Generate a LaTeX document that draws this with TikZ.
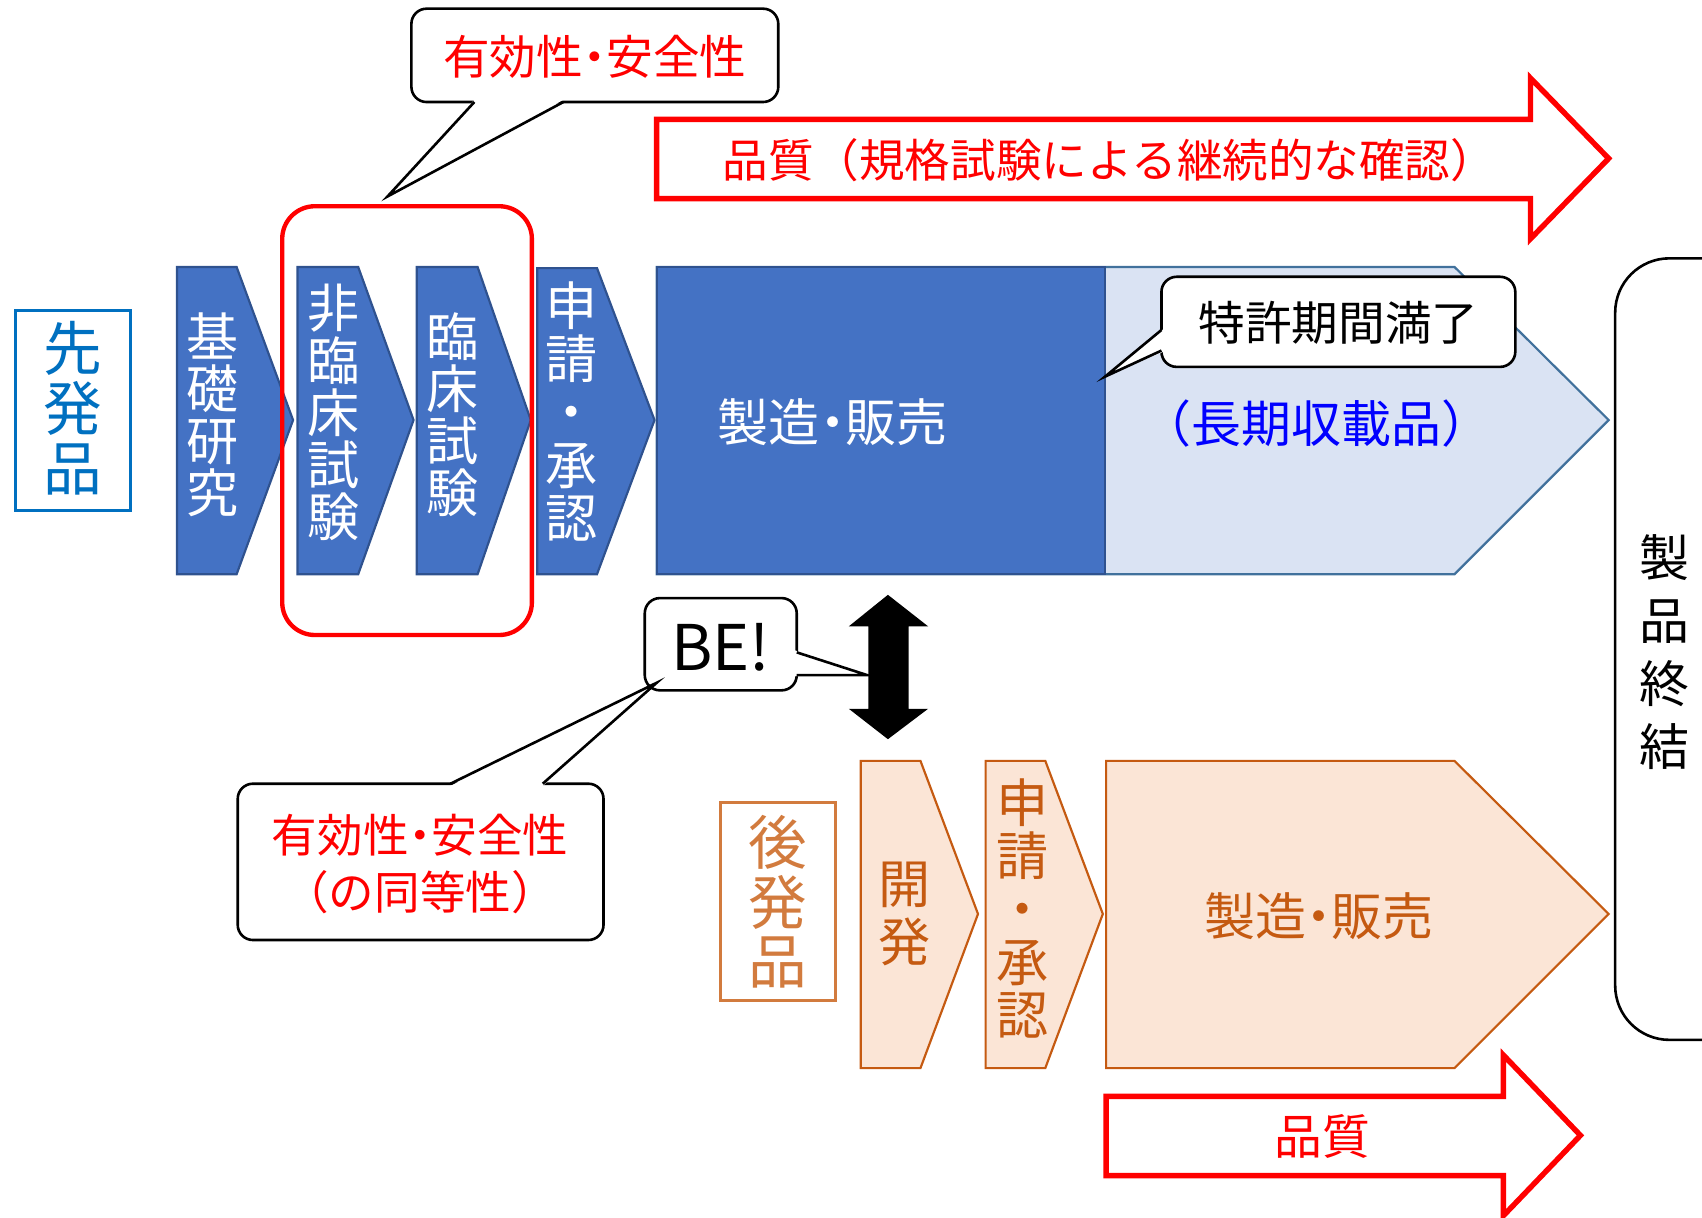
\documentclass[tikz,border=0pt]{standalone}
\usepackage{fontspec}
\setmainfont{Noto Sans CJK JP}
\definecolor{bfill}{HTML}{4472C4}
\definecolor{bline}{HTML}{2F528F}
\definecolor{lfill}{HTML}{DAE3F3}
\definecolor{lline}{HTML}{41719C}
\definecolor{ofill}{HTML}{FBE5D6}
\definecolor{oline}{HTML}{C55A11}
\definecolor{obox}{HTML}{D27B3E}
\definecolor{sblue}{HTML}{0070C0}
\definecolor{pblue}{HTML}{0000FF}
\definecolor{pred}{HTML}{FF0000}
\newcommand\narrowdot{\makebox[0.5em]{・}}
\begin{document}
\begin{tikzpicture}[x=0.5pt,y=-0.5pt,line join=miter,
  bluechev/.style={fill=bfill,draw=bline,line width=1pt},
  orchev/.style={fill=ofill,draw=oline,line width=1pt},
  redarrow/.style={draw=pred,fill=white,line width=2.5pt},
  callbox/.style={draw=black,fill=white,line width=1.2pt,rounded corners=7pt},
  callline/.style={draw=black,line width=1.2pt},
  vtext/.style={align=center,inner sep=0pt},
  fz/.style 2 args={font={\fontsize{#1}{#2}\selectfont}}]
\useasboundingbox (0,0) rectangle (1568,1122);

% top quality arrow
\draw[redarrow] (605,110) -- (1410,110) -- (1410,72) -- (1482,146) -- (1410,220) -- (1410,183) -- (605,183) -- cycle;
\node[fz={21pt}{24pt},text=pred] (q1) at (1022,148) {品質（規格試験による継続的な確認）};

% originator
\draw[draw=sblue,line width=1.5pt] (14,286) rectangle (120,470);
\node[vtext,fz={27pt}{27.5pt},text=sblue] (sen) at (67,376) {先\\発\\品};

\draw[bluechev] (163,246) -- (218,246) -- (270,387) -- (218,529) -- (163,529) -- cycle;
\draw[bluechev] (274,246) -- (330,246) -- (381,387) -- (330,529) -- (274,529) -- cycle;
\draw[bluechev] (384,246) -- (440,246) -- (489,387) -- (440,529) -- (384,529) -- cycle;
\draw[bluechev] (495,247) -- (550,247) -- (603,387) -- (550,529) -- (495,529) -- cycle;
\node[vtext,fz={24pt}{24pt},text=white] (c1) at (196,382) {基\\礎\\研\\究};
\node[vtext,fz={24pt}{24pt},text=white] (c2) at (307,380) {非\\臨\\床\\試\\験};
\node[vtext,fz={24pt}{24pt},text=white] (c3) at (417,382) {臨\\床\\試\\験};
\node[vtext,fz={24pt}{24.5pt},text=white] (c4) at (527,379) {申\\請\\・\\承\\認};

\draw[fill=lfill,draw=lline,line width=1pt] (605,246) -- (1340,246) -- (1482,387) -- (1340,529) -- (605,529) -- cycle;
\draw[fill=bfill,draw=bline,line width=1pt] (605,246) rectangle (1018,529);
\node[fz={23.5pt}{24pt},text=white] (mfg1) at (767,389) {製造\narrowdot 販売};
\node[fz={23pt}{24pt},text=pblue] (ltp) at (1213,390) {（長期収載品）};

% patent callout
\draw[callbox] (1070,255) rectangle (1396,338);
\fill[white] (1072,303) -- (1018,347) -- (1072,324) -- cycle;
\draw[callline] (1070,304) -- (1018,347) -- (1070,323);
\node[fz={21.5pt}{24pt}] (pat) at (1233,297) {特許期間満了};

% red frame around trials
\draw[draw=pred,line width=2pt,rounded corners=15pt] (260,190) rectangle (490,585);

% top efficacy callout
\draw[callbox] (379,8) rectangle (717,94);
\fill[white] (437,92) -- (357,181) -- (519,92) -- cycle;
\draw[callline] (437,94) -- (357,181) -- (519,94);
\node[fz={21.5pt}{24pt},text=pred] (eff1) at (548,52) {有効性\narrowdot 安全性};

% double arrow
\fill[black] (818,548) -- (855,577) -- (837,577) -- (837,653) -- (855,653) -- (818,681) -- (782,653) -- (800,653) -- (800,577) -- (782,577) -- cycle;

% BE callout
\draw[callbox] (594,551) rectangle (734,636);
\fill[white] (732,599) -- (799,622) -- (732,623) -- cycle;
\draw[callline] (734,601) -- (799,622) -- (734,622);
\node[fz={29pt}{30pt}] (be) at (664,596) {BE!};

% bottom efficacy callout
\draw[callbox] (219,722) rectangle (556,866);
\fill[white] (415,724) -- (605,629) -- (500,724) -- cycle;
\draw[callline] (415,722) -- (605,629) -- (500,722);
\node[vtext,fz={21pt}{26pt},text=pred] (eff2) at (387,796) {有効性\narrowdot 安全性\\（の同等性）};

% generic
\draw[draw=obox,line width=1.5pt] (664,739) rectangle (770,922);
\node[vtext,fz={27pt}{27.5pt},text=obox] (gen) at (717,831) {後\\発\\品};

\draw[orchev] (793,701) -- (848,701) -- (901,842) -- (848,984) -- (793,984) -- cycle;
\draw[orchev] (908,701) -- (963,701) -- (1016,842) -- (963,984) -- (908,984) -- cycle;
\draw[orchev] (1019,701) -- (1340,701) -- (1482,842) -- (1340,984) -- (1019,984) -- cycle;
\node[vtext,fz={24pt}{26.5pt},text=oline] (o1) at (833,842) {開\\発};
\node[vtext,fz={24pt}{24.5pt},text=oline] (o2) at (942,837) {申\\請\\・\\承\\認};
\node[fz={23.5pt}{24pt},text=oline] (mfg2) at (1215,844) {製造\narrowdot 販売};

% bottom quality arrow
\draw[redarrow] (1019,1010) -- (1385,1010) -- (1385,972) -- (1456,1046) -- (1385,1120) -- (1385,1083) -- (1019,1083) -- cycle;
\node[fz={22pt}{24pt},text=pred] (q2) at (1218,1047) {品質};

% product end
\begin{scope}
\clip (0,0) rectangle (1568,1122);
\draw[line width=1.2pt,rounded corners=25pt] (1488,238) rectangle (1650,958);
\end{scope}
\node[vtext,fz={23pt}{29pt}] (end) at (1533,601) {製\\品\\終\\結};
\end{tikzpicture}
\end{document}
